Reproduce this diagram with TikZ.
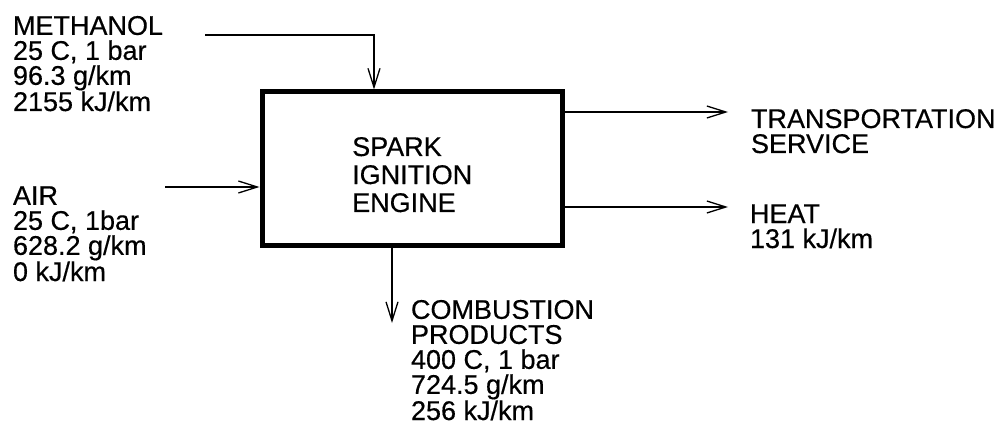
\documentclass[tikz,border=0pt]{standalone}
\usepackage{fontspec}
\setmainfont{Liberation Sans}
\newfontfamily\lblfont{Liberation Sans}[FakeBold=0.4]
\usetikzlibrary{arrows.meta,calc}
\tikzset{
  arr/.style={line width=1.3pt, -{Straight Barb[length=19pt,width=12pt,line width=1.3pt]}},
  lbl/.style={anchor=base west, align=left, inner sep=0pt, outer sep=0pt,
    font=\lblfont\fontsize{27}{25}\selectfont},
  enginebox/.style={draw, line width=5pt, minimum width=300pt, minimum height=153pt, inner sep=0pt},
  enginetxt/.style={anchor=base west, align=left, inner sep=0pt, font=\lblfont\fontsize{27}{28}\selectfont},
}
\begin{document}
\begin{tikzpicture}[x=1pt,y=-1pt]
\useasboundingbox[fill=white] (0,0) rectangle (1008,430);
\node[enginebox] (engine) at (412,168.5) {};
\node[enginetxt] (enginelabel) at (352,212) {SPARK\\IGNITION\\ENGINE};

\node[lbl] (methanol) at (13,111) {METHANOL\\25 C, 1 bar\\96.3 g/km\\2155 kJ/km};
\node[lbl] (air) at (13,281) {AIR\\25 C, 1bar\\628.2 g/km\\0 kJ/km};
\node[lbl] (transport) at (751,153) {TRANSPORTATION\\SERVICE};
\node[lbl] (heat) at (750,248) {HEAT\\131 kJ/km};
\node[lbl] (products) at (411,420) {COMBUSTION\\PRODUCTS\\400 C, 1 bar\\724.5 g/km\\256 kJ/km};

\coordinate (m0) at (205,35);
\coordinate (m1) at (374,35);
\coordinate (a0) at (165,187);
\coordinate (t1) at (728,112);
\coordinate (h1) at (728,207);
\coordinate (c1) at (392,323);

\draw[arr] (m0) -- (m1) -- (m1 |- engine.north);
\draw[arr] (a0) -- (a0 -| engine.west);
\draw[arr] (t1 -| engine.east) -- (t1);
\draw[arr] (h1 -| engine.east) -- (h1);
\draw[arr] (c1 |- engine.south) -- (c1);
\end{tikzpicture}
\end{document}
